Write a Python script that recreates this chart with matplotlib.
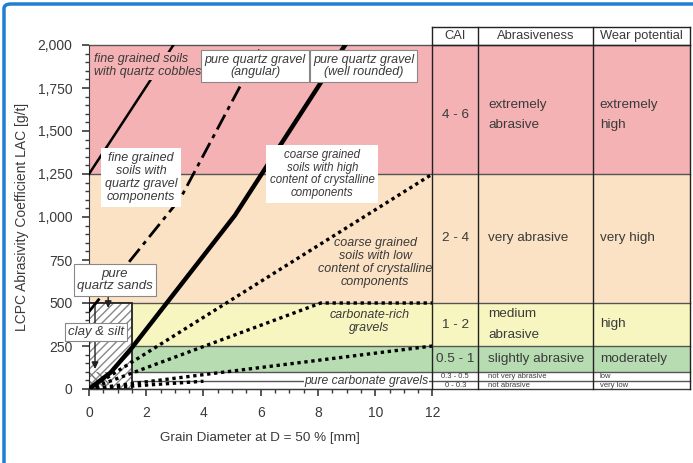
import numpy as np
import matplotlib
matplotlib.use("Agg")
import matplotlib.pyplot as plt
from matplotlib.patches import Rectangle, FancyBboxPatch
from matplotlib.ticker import MultipleLocator, FuncFormatter

plt.rcParams['font.family'] = ['Liberation Sans', 'DejaVu Sans']

# abrasivity bands (LAC limits) and table rows, bottom to top
band_edges = [0, 45, 100, 250, 500, 1250, 2000]
band_colors = ["white", "white", "#B8DCB2", "#F8F6C0", "#FCE2C4", "#F4B2B5"]
cai = ["0 - 0.3", "0.3 - 0.5", "0.5 - 1", "1 - 2", "2 - 4", "4 - 6"]
abrasiveness = ["not abrasive", "not very abrasive", "slightly abrasive",
                "medium\nabrasive", "very abrasive", "extremely\nabrasive"]
wear = ["very low", "low", "moderately", "high", "very high", "extremely\nhigh"]
headers = ["CAI", "Abrasiveness", "Wear potential"]
col_edges = [12, 13.6, 17.6, 21.0]

# soil type lines (grain diameter mm, LAC g/t)
cobbles_x = [0, 2.95]
cobbles_y = [1250, 2000]
angular_x = [0, 3.2, 6.05]
angular_y = [450, 1110, 2000]
rounded_x = [0, 0.75, 1.5, 5.1, 8.95]
rounded_y = [0, 95, 240, 1010, 2000]
high_x = [0, 12]
high_y = [0, 1250]
low_x = [0, 8.1, 12]
low_y = [0, 500, 500]
carb_rich_x = [0, 12]
carb_rich_y = [0, 250]
carb_x = [0, 4]
carb_y = [0, 45]

fig = plt.figure(figsize=(6.93, 4.63), dpi=100)
ax = fig.add_axes([89/693, 1-389/463, (690-89)/693, (389-45)/463])
ax.set_xlim(0, 21)
ax.set_ylim(0, 2000)

# figure frame
fig.patches.append(FancyBboxPatch((4/693, -0.1), 1.2, 1.1 - 4/463,
                                  boxstyle="round,pad=0,rounding_size=0.01",
                                  transform=fig.transFigure, fill=False,
                                  edgecolor="#1E7FD0", lw=2.5))

gray = "#3a3a3a"
for i in range(len(band_colors)):
    ax.add_patch(Rectangle((0, band_edges[i]), 21, band_edges[i+1]-band_edges[i],
                           facecolor=band_colors[i], edgecolor="none", zorder=0))
for e in band_edges[1:]:
    ax.plot([0, 21], [e, e], color="#555555", lw=1, zorder=1, clip_on=False)
ax.plot([0, 21], [0, 0], color=gray, lw=1, zorder=1, clip_on=False)

# table
top = 2105
for c in col_edges:
    ax.plot([c, c], [0, top], color="#222222", lw=1, zorder=5, clip_on=False)
ax.plot([12, 21], [top, top], color="#222222", lw=1, zorder=5, clip_on=False)
ax.plot([12, 21], [2000, 2000], color="#222222", lw=1, zorder=5, clip_on=False)
for j, h in enumerate(headers):
    xc = (col_edges[j] + col_edges[j+1]) / 2
    ax.text(xc, 2052, h, ha="center", va="center", fontsize=9.3, color=gray,
            clip_on=False)
for i in range(len(cai)):
    yc = (band_edges[i] + band_edges[i+1]) / 2
    if i == 5:
        yc -= 30
    small = i < 2
    fs = 5.5 if small else 9.7
    ax.text(12.8, yc, cai[i], ha="center", va="center", fontsize=fs, color=gray)
    ax.text(13.95, yc, abrasiveness[i], ha="left", va="center", fontsize=fs,
            color=gray, linespacing=1.9)
    ax.text(17.85, yc, wear[i], ha="left", va="center", fontsize=fs,
            color=gray, linespacing=1.9)

# clay & silt box
ax.add_patch(Rectangle((0, 0), 1.5, 500, facecolor="white", edgecolor="#888888",
                       hatch="////", lw=0, zorder=2))
ax.add_patch(Rectangle((0, 0), 0.7, 100, facecolor="none", edgecolor="#777777",
                       hatch="\\\\\\\\", lw=0, zorder=2))
ax.add_patch(Rectangle((0, 0), 1.5, 500, facecolor="none", edgecolor="#222222",
                       lw=1.3, zorder=3))

# lines
ax.plot(cobbles_x, cobbles_y, color="black", lw=1.8, zorder=4)
ax.plot(angular_x, angular_y, color="black", lw=2, zorder=4,
        dashes=(6, 2, 1.5, 2))
ax.plot(rounded_x, rounded_y, color="black", lw=3.2, zorder=4,
        solid_joinstyle="round")
for xs, ys in [(high_x, high_y), (low_x, low_y), (carb_rich_x, carb_rich_y),
               (carb_x, carb_y)]:
    ax.plot(xs, ys, color="black", lw=2.4, zorder=4, dashes=(1, 1.1))

# arrows
ax.annotate("", xy=(0.67, 455), xytext=(0.67, 560),
            arrowprops=dict(arrowstyle="-|>", color="#222222", lw=1), zorder=6)
ax.annotate("", xy=(0.21, 100), xytext=(0.21, 500),
            arrowprops=dict(arrowstyle="-|>", color="#222222", lw=1), zorder=6)

# labels
box = dict(boxstyle="square,pad=0.25", facecolor="white", edgecolor="#888888", lw=0.8)
nobox = dict(boxstyle="square,pad=0.3", facecolor="white", edgecolor="none")
lab = dict(fontsize=9, style="italic", color=gray, ha="center", va="center",
           zorder=7, linespacing=1.1)
ax.text(0.18, 1880, "fine grained soils\nwith quartz cobbles", ha="left",
        va="center", fontsize=9, style="italic", color=gray, zorder=7,
        linespacing=1.15,
        bbox=dict(boxstyle="square,pad=0.1", facecolor="#F4B2B5", edgecolor="none"))
ax.text(5.8, 1878, "pure quartz gravel\n(angular)", bbox=box, **lab)
ax.text(9.6, 1878, "pure quartz gravel\n(well rounded)", bbox=box, **lab)
ax.text(1.82, 1230, "fine grained\nsoils with\nquartz gravel\ncomponents",
        bbox=nobox, **lab)
ax.text(8.15, 1250, "coarse grained\nsoils with high\ncontent of crystalline\ncomponents",
        bbox=nobox, **{**lab, "fontsize": 8.3})
ax.text(10.0, 735, "coarse grained\nsoils with low\ncontent of crystalline\ncomponents", **lab)
ax.text(9.8, 390, "carbonate-rich\ngravels", **lab)
ax.text(9.7, 48, "pure carbonate gravels",
        bbox=dict(boxstyle="square,pad=0.05", facecolor="white", edgecolor="none"),
        **{**lab, "fontsize": 8.7})
ax.text(0.9, 634, "pure\nquartz sands", bbox=box, clip_on=False,
        **{**lab, "fontsize": 9.5})
ax.text(0.25, 331, "clay & silt", bbox=box, clip_on=False,
        **{**lab, "fontsize": 9.5})

# axes
for s in ["top", "right"]:
    ax.spines[s].set_visible(False)
ax.spines["bottom"].set_bounds(0, 12)
ax.spines["left"].set_color(gray)
ax.spines["bottom"].set_color(gray)
ax.set_xticks(np.arange(0, 13, 2))
ax.set_xticks([t for t in np.arange(0, 12.01, 0.5) if t % 2 != 0], minor=True)
ax.set_yticks(np.arange(0, 2001, 250))
ax.yaxis.set_minor_locator(MultipleLocator(50))
ax.yaxis.set_major_formatter(FuncFormatter(lambda v, p: f"{int(v):,}"))
ax.tick_params(which="major", direction="out", length=5, width=1.2,
               colors=gray, labelsize=10, pad=7)
ax.tick_params(which="minor", direction="out", length=3, width=1, colors=gray)
ax.set_ylabel("LCPC Abrasivity Coefficient LAC [g/t]", fontsize=10, color=gray)
ax.yaxis.set_label_coords(-0.1, 0.5)
ax.set_xlabel("Grain Diameter at D = 50 % [mm]", fontsize=9.7, color=gray)
ax.xaxis.set_label_coords((260-89)/601, -0.125)

fig.savefig("out.png", dpi=100)
